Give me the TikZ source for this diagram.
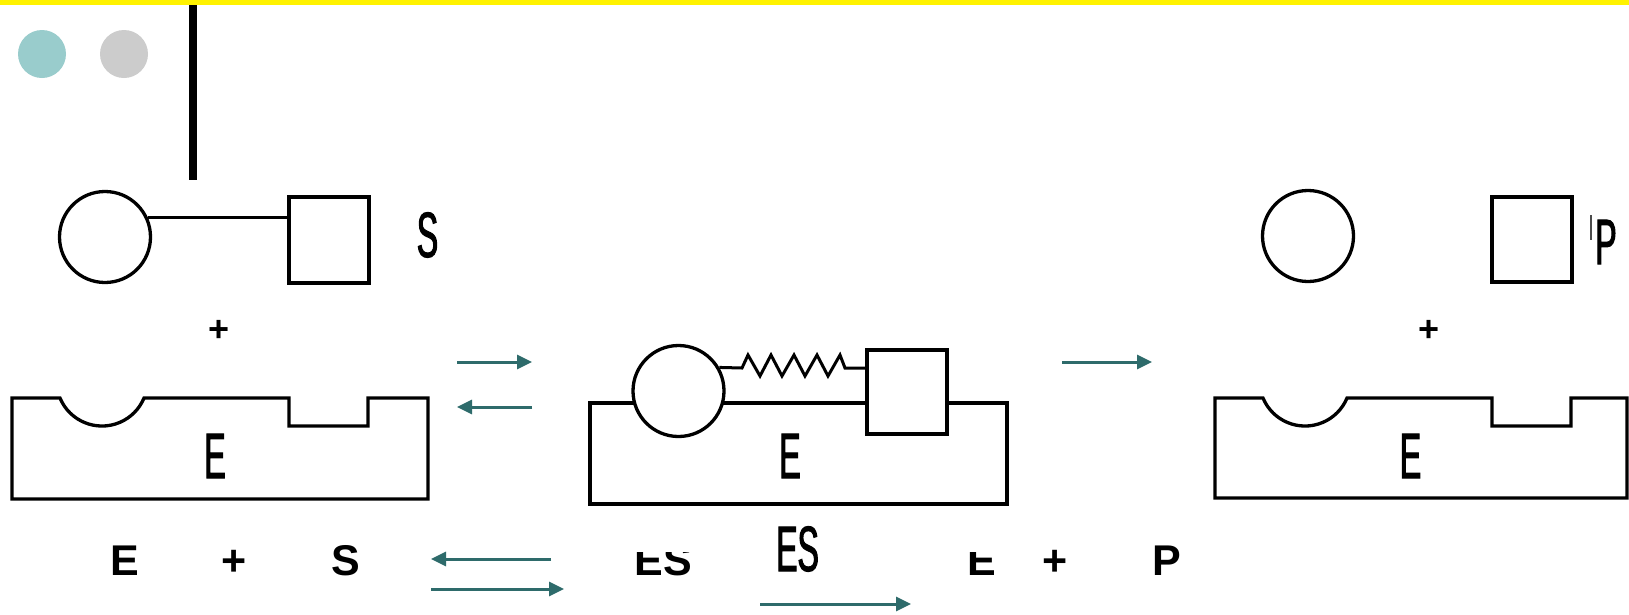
\documentclass[tikz,border=0pt]{standalone}
\usepackage{fontspec}
\setmainfont{Liberation Sans}
\newfontfamily\condfont[FakeStretch=0.5,FakeBold=1.6]{Liberation Sans}
\usetikzlibrary{arrows.meta}
\definecolor{arrteal}{HTML}{2E6B6B}
\definecolor{dotteal}{HTML}{99CCCC}
\definecolor{dotgray}{HTML}{CCCCCC}
\begin{document}
\begin{tikzpicture}[x=1pt,y=-1pt,
  outl/.style={draw=black, line width=3.3pt, fill=white},
  ball/.style={outl, circle, minimum size=91pt, inner sep=0pt},
  cube/.style={outl, rectangle, inner sep=0pt},
  rxn/.style={draw=arrteal, line width=3pt, -{Triangle[length=15pt,width=14pt]}},
  condlbl/.style={font=\condfont\fontsize{64pt}{64pt}\selectfont, inner sep=0pt, anchor=base},
  boldlbl/.style={font=\bfseries\fontsize{43pt}{43pt}\selectfont, inner sep=0pt, anchor=base},
  pluslbl/.style={font=\bfseries\fontsize{36pt}{36pt}\selectfont, inner sep=0pt}]
\useasboundingbox (0,0) rectangle (1629,614);
\fill[white] (0,0) rectangle (1629,614);
% header decoration
\fill[yellow] (0,0) rectangle (1629,5);
\fill[dotteal] (42,54) circle[radius=24];
\fill[dotgray] (124,54) circle[radius=24];
\fill[black] (189,5) rectangle (197,180);

% ---------- left: E + S ----------
\node[ball] (sc) at (105,237) {};
\node[cube, minimum width=80pt, minimum height=86pt] (ss) at (329,240) {};
\draw[line width=3pt] (sc.25) -- (sc.25 -| ss.west);
\node[condlbl] (slbl) at (427.5,257) {S};
\node[pluslbl] (plusL) at (219,331) {+};
\draw[outl] (12,398) -- (60,398) arc[start angle=157.4, end angle=22.6, radius=45.5]
  -- (289,398) -- (289,426) -- (368,426) -- (368,398) -- (428,398)
  -- (428,499) -- (12,499) -- cycle;
\node[condlbl] (elblL) at (215,478) {E};

% arrows top-left
\coordinate (a1s) at (457,362); \coordinate (a1e) at (532,362);
\coordinate (a2s) at (532,407); \coordinate (a2e) at (457,407);
\draw[rxn] (a1s) -- (a1e);
\draw[rxn] (a2s) -- (a2e);

% ---------- bottom equation ----------
\node[boldlbl] (bE1) at (124.5,575) {E};
\node[boldlbl] (bP1) at (234,575) {+};
\node[boldlbl] (bS1) at (345.5,575) {S};
\node[boldlbl] (bES) at (663.5,575) {ES};
\node[boldlbl] (bE2) at (981.5,575) {E};
\node[boldlbl] (bP2) at (1055.5,575) {+};
\node[boldlbl] (bPr) at (1167,575) {P};
\coordinate (b1s) at (551,559); \coordinate (b1e) at (431,559);
\coordinate (b2s) at (431,589); \coordinate (b2e) at (564,589);
\coordinate (b3s) at (760,604); \coordinate (b3e) at (911,604);
\draw[rxn] (b1s) -- (b1e);
\draw[rxn] (b2s) -- (b2e);
\draw[rxn] (b3s) -- (b3e);

% ---------- middle: ES complex ----------
\fill[white] (580,300) rectangle (1015,552);
\node[outl, rectangle, inner sep=0pt, minimum width=417pt, minimum height=101pt] (esblock) at (798.5,453.5) {};
\coordinate (spL) at (742,368);
\coordinate (spR) at (845,368);
\node[ball] (ec) at (678.5,391) {};
\node[cube, minimum width=80pt, minimum height=84pt] (es) at (907,392) {};
\draw[line width=3pt, line join=miter] (ec.30) -- (spL) -- (748,355) -- (760,376) -- (771,355) -- (782,376)
  -- (794,355) -- (805,376) -- (817,355) -- (828,376) -- (840,355) -- (spR) -- (spR -| es.west);
\node[condlbl] (elblM) at (790,478) {E};
\node[condlbl] (eslbl) at (797.5,571) {ES};

% arrow to products
\coordinate (a3s) at (1062,362); \coordinate (a3e) at (1152,362);
\draw[rxn] (a3s) -- (a3e);

% ---------- right: E + P ----------
\node[ball] (pc) at (1308,236) {};
\node[cube, minimum width=80pt, minimum height=85pt] (ps) at (1532,239.5) {};
\node[condlbl] (plbl) at (1606,264) {P};
\draw[line width=1.2pt, black!70] (1591,215) -- (1591,240);
\node[pluslbl] (plusR) at (1429,331) {+};
\draw[outl] (1215,398) -- (1263,398) arc[start angle=157.4, end angle=22.6, radius=45.5]
  -- (1492,398) -- (1492,426) -- (1571,426) -- (1571,398) -- (1627,398)
  -- (1627,498) -- (1215,498) -- cycle;
\node[condlbl] (elblR) at (1410.5,478) {E};
\end{tikzpicture}
\end{document}
